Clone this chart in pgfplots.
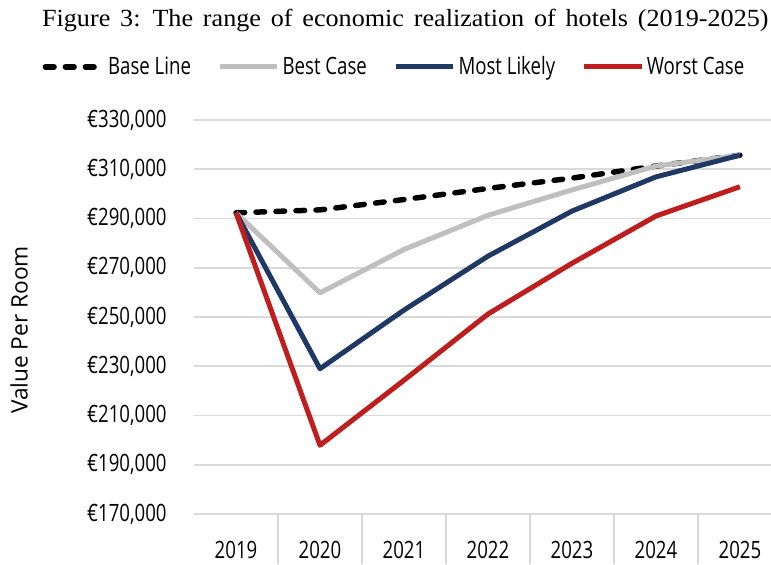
\documentclass[border=0pt]{standalone}
\usepackage{fontspec}
\setmainfont{Open Sans}[FakeStretch=0.78]
\newfontfamily\ylabfont{Open Sans}
\newfontfamily\titlefont{Liberation Serif}[FakeStretch=1.06, WordSpace=1.5]
\usepackage{pgfplots}
\pgfplotsset{compat=1.18}
\definecolor{gridgray}{HTML}{D9D9D9}
\definecolor{bestgray}{HTML}{BFBFBF}
\definecolor{likelyblue}{HTML}{203864}
\definecolor{worstred}{HTML}{BE1E1E}
\begin{document}
\begin{tikzpicture}
\useasboundingbox (0,0) rectangle (578.25pt,423pt);
\node[font=\titlefont\fontsize{18.5}{21}\selectfont, anchor=center] at (304pt,408pt) {Figure 3: The range of economic realization of hotels (2019-2025)};
\begin{axis}[
  scale only axis,
  width=432.75pt, height=295.5pt,
  at={(145.5pt,37.5pt)}, anchor=south west,
  xmin=-0.5, xmax=6.37,
  ymin=170000, ymax=330000,
  scaled y ticks=false,
  xtick={0,1,2,3,4,5,6},
  xticklabels={2019,2020,2021,2022,2023,2024,2025},
  minor xtick={0.5,1.5,2.5,3.5,4.5,5.5},
  ytick={170000,190000,210000,230000,250000,270000,290000,310000,330000},
  yticklabels={{€170,000},{€190,000},{€210,000},{€230,000},{€250,000},{€270,000},{€290,000},{€310,000},{€330,000}},
  xtick pos=bottom, ytick pos=left,
  tick align=outside,
  major tick length=0pt,
  minor tick length=37.5pt,
  minor tick style={draw=gridgray, line width=1.2pt},
  ymajorgrids,
  grid style={draw=gridgray, line width=1.2pt},
  axis line style={draw=none},
  tick label style={font=\fontsize{17.9}{20}\selectfont},
  yticklabel style={anchor=east, xshift=-17pt},
  xticklabel style={anchor=north, yshift=-16.5pt},
  ylabel={\ylabfont\fontsize{17}{20}\selectfont Value Per Room},
  ylabel style={at={(axis description cs:-0.303,0.467)}, anchor=center},
  legend columns=4,
  legend style={at={(0.348,1.135)}, anchor=center, draw=none, fill=none,
    font=\fontsize{17.9}{20}\selectfont,
    /tikz/every even column/.append style={column sep=18pt},
    inner sep=0pt},
  legend image code/.code={\draw[#1] (0pt,0pt) -- (43pt,0pt);},
  every axis plot/.append style={line width=3.75pt, line join=round},
]
\addplot[black, line width=4.1pt, dash pattern=on 6.5pt off 8.5pt, line cap=round] coordinates {(0,292300) (1,293500) (2,297700) (3,302200) (4,306400) (5,311300) (6,315700)};
\addlegendentry{Base Line}
\addplot[bestgray] coordinates {(0,292300) (1,259800) (2,277400) (3,291300) (4,301600) (5,311300) (6,315700)};
\addlegendentry{Best Case}
\addplot[likelyblue] coordinates {(0,292300) (1,229000) (2,252800) (3,274700) (4,293000) (5,306900) (6,315700)};
\addlegendentry{Most Likely}
\addplot[worstred] coordinates {(0,292300) (1,197900) (2,224300) (3,251200) (4,271800) (5,291000) (6,302900)};
\addlegendentry{Worst Case}
\end{axis}
\end{tikzpicture}
\end{document}
